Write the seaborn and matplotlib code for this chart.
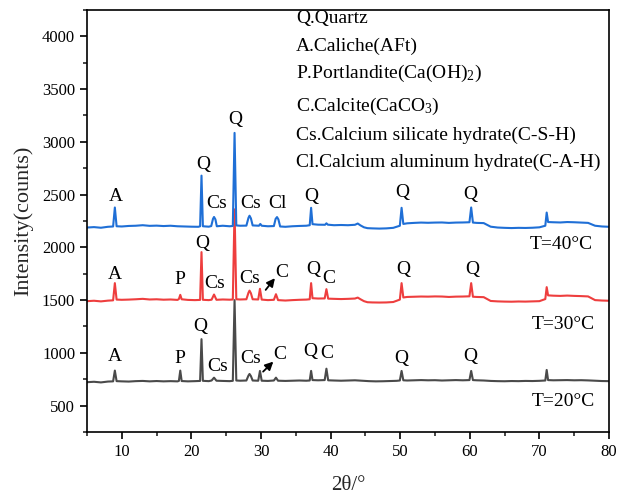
import numpy as np
import pandas as pd
import matplotlib
matplotlib.use("Agg")
import matplotlib.pyplot as plt
import seaborn as sns

# ---- XRD patterns (2theta in degrees, intensity in counts) ----
t40_x = [5.0, 6.0, 7.0, 8.0, 8.75, 9.0, 9.25, 10.0, 11.0, 12.0, 13.0, 14.0, 15.0, 16.0,
         17.0, 18.0, 19.0, 20.0, 21.0, 21.25, 21.45, 21.65, 22.5, 22.85, 23.1, 23.25, 23.45,
         23.65, 24.5, 25.5, 25.95, 26.2, 26.45, 27.0, 27.9, 28.2, 28.35, 28.55, 28.8, 29.7,
         29.9, 30.1, 31.0, 31.85, 32.1, 32.3, 32.5, 32.75, 33.5, 34.5, 35.5, 36.5, 37.0, 37.2,
         37.4, 38.2, 39.2, 39.4, 39.6, 40.5, 41.5, 42.5, 43.5, 43.9, 44.3, 44.8, 45.3, 46.0,
         47.0, 48.0, 49.0, 49.95, 50.2, 50.45, 51.0, 52.0, 53.0, 54.0, 55.0, 56.0, 57.0, 58.0,
         59.0, 59.95, 60.2, 60.45, 61.0, 62.0, 63.0, 64.0, 65.0, 66.0, 67.0, 68.0, 69.0, 70.0,
         70.85, 71.05, 71.25, 72.0, 73.0, 74.0, 75.0, 76.0, 77.0, 78.0, 79.0, 80.0]
t40_y = [2188, 2192, 2186, 2195, 2198, 2378, 2200, 2198, 2203, 2205, 2210, 2204, 2206, 2202,
         2205, 2200, 2198, 2196, 2195, 2200, 2680, 2200, 2196, 2202, 2270, 2288, 2265,
         2200, 2205, 2200, 2203, 3085, 2208, 2205, 2206, 2280, 2300, 2275, 2208, 2205,
         2222, 2205, 2200, 2202, 2270, 2287, 2265, 2198, 2195, 2200, 2203, 2205, 2210, 2375,
         2220, 2215, 2214, 2228, 2215, 2210, 2212, 2210, 2214, 2226, 2208, 2190, 2182, 2180,
         2178, 2180, 2185, 2205, 2375, 2222, 2228, 2232, 2235, 2233, 2235, 2236, 2232, 2235,
         2236, 2238, 2378, 2235, 2232, 2230, 2196, 2188, 2185, 2183, 2185, 2184, 2186, 2190,
         2205, 2330, 2240, 2238, 2236, 2240, 2238, 2235, 2232, 2205, 2198, 2195]

t30_x = [5.0, 6.0, 7.0, 8.0, 8.75, 9.0, 9.25, 10.0, 11.0, 12.0, 13.0, 14.0, 15.0, 16.0,
         17.0, 18.0, 18.2, 18.4, 18.6, 19.5, 20.5, 21.25, 21.45, 21.65, 22.5, 22.9, 23.25,
         23.6, 24.5, 25.5, 25.95, 26.2, 26.45, 27.0, 27.9, 28.2, 28.35, 28.55, 28.8, 29.6,
         29.85, 30.1, 31.0, 31.85, 32.15, 32.45, 33.5, 34.5, 35.5, 36.5, 37.0, 37.2, 37.4,
         38.2, 39.15, 39.4, 39.65, 40.5, 41.5, 42.5, 43.5, 43.9, 44.3, 44.8, 45.3, 46.0, 47.0,
         48.0, 49.0, 49.95, 50.2, 50.45, 51.0, 52.0, 53.0, 54.0, 55.0, 56.0, 57.0, 58.0, 59.0,
         59.95, 60.2, 60.45, 61.0, 62.0, 63.0, 64.0, 65.0, 66.0, 67.0, 68.0, 69.0, 70.0, 70.85,
         71.05, 71.25, 72.0, 73.0, 74.0, 75.0, 76.0, 77.0, 78.0, 79.0, 80.0]
t30_y = [1490, 1494, 1488, 1495, 1498, 1661, 1505, 1503, 1505, 1508, 1512, 1506, 1508, 1504,
         1506, 1502, 1510, 1550, 1508, 1502, 1500, 1502, 1955, 1503, 1500, 1504, 1553,
         1503, 1506, 1504, 1506, 2360, 1508, 1506, 1508, 1570, 1590, 1565, 1508, 1506,
         1607, 1505, 1500, 1503, 1556, 1500, 1496, 1500, 1503, 1505, 1508, 1661, 1518,
         1515, 1516, 1604, 1514, 1512, 1510, 1512, 1515, 1524, 1508, 1490, 1480, 1478, 1477,
         1478, 1482, 1505, 1661, 1525, 1530, 1532, 1534, 1533, 1535, 1534, 1530, 1533, 1534,
         1536, 1661, 1532, 1530, 1528, 1492, 1488, 1486, 1485, 1487, 1486, 1488, 1490, 1510,
         1623, 1545, 1542, 1540, 1543, 1540, 1538, 1535, 1500, 1496, 1494]

t20_x = [5.0, 6.0, 7.0, 8.0, 8.75, 9.0, 9.25, 10.0, 11.0, 12.0, 13.0, 14.0, 15.0, 16.0,
         17.0, 18.0, 18.2, 18.4, 18.6, 19.5, 20.5, 21.25, 21.45, 21.65, 22.5, 22.9, 23.25,
         23.6, 24.5, 25.5, 25.95, 26.2, 26.45, 27.0, 27.9, 28.2, 28.35, 28.55, 28.8, 29.6,
         29.85, 30.1, 31.0, 31.85, 32.15, 32.45, 33.5, 34.5, 35.5, 36.5, 37.0, 37.2, 37.4,
         38.2, 39.15, 39.4, 39.65, 40.5, 41.5, 42.5, 43.5, 44.5, 45.5, 46.5, 47.5, 48.5, 49.5,
         49.95, 50.2, 50.45, 51.0, 52.0, 53.0, 54.0, 55.0, 56.0, 57.0, 58.0, 59.0, 59.95, 60.2,
         60.45, 61.0, 62.0, 63.0, 64.0, 65.0, 66.0, 67.0, 68.0, 69.0, 70.0, 70.85, 71.05,
         71.25, 72.0, 73.0, 74.0, 75.0, 76.0, 77.0, 78.0, 79.0, 80.0]
t20_y = [722, 726, 720, 728, 730, 832, 732, 730, 728, 732, 734, 730, 733, 730,
         732, 730, 734, 832, 733, 730, 732, 734, 1130, 735, 732, 738, 765,
         736, 734, 732, 735, 1500, 738, 736, 738, 785, 800, 780, 738, 736,
         829, 736, 734, 738, 765, 736, 734, 736, 738, 736, 738, 829, 742,
         740, 742, 850, 740, 738, 736, 738, 740, 736, 732, 730, 731, 733, 735,
         738, 829, 740, 738, 740, 742, 740, 741, 738, 740, 742, 740, 742, 829,
         742, 740, 738, 734, 732, 731, 733, 732, 734, 733, 735, 738, 838,
         742, 740, 741, 742, 740, 741, 739, 736, 733, 732]

series_names = ["T=20°C", "T=30°C", "T=40°C"]
series_colors = ["#4a4a4a", "#ee3e3e", "#1f6fd6"]

# Phase key shown in the upper right
phase_key = ["Q.Quartz",
             "A.Caliche(AFt)",
             "P.Portlandite(Ca(OH)$_2$)",
             "C.Calcite(CaCO$_3$)",
             "Cs.Calcium silicate hydrate(C-S-H)",
             "Cl.Calcium aluminum hydrate(C-A-H)"]

# Peak labels: (text, 2theta, intensity)
labels_40 = [("A", 9.1, 2482), ("Q", 21.7, 2783), ("Q", 26.26, 3210), ("Cs", 23.6, 2419),
             ("Cs", 28.56, 2419), ("Cl", 32.4, 2419), ("Q", 37.2, 2482),
             ("Q", 50.36, 2520), ("Q", 60.1, 2505)]
labels_30 = [("A", 9.07, 1740), ("P", 18.4, 1692), ("Q", 21.5, 2040), ("Cs", 23.4, 1661),
             ("Cs", 28.3, 1708), ("C", 32.97, 1762), ("Q", 37.5, 1787), ("C", 39.7, 1708),
             ("Q", 50.5, 1787), ("Q", 60.3, 1787)]
labels_20 = [("A", 8.98, 964), ("P", 18.4, 949), ("Q", 21.3, 1249), ("Cs", 23.7, 870),
             ("Cs", 28.5, 949), ("C", 32.7, 980), ("Q", 37.1, 1012), ("C", 39.4, 990),
             ("Q", 50.2, 949), ("Q", 60.1, 964)]
# Arrows from calcite peak toward its label: (tail_x, tail_y, head_x, head_y)
arrows = [(30.67, 1597, 32.0, 1708), (30.3, 822, 31.77, 917)]
temp_labels = [("T=40°C", 73.2, 2024), ("T=30°C", 73.4, 1265), ("T=20°C", 73.4, 537)]

frames = []
for name, xs, ys in zip(series_names, [t20_x, t30_x, t40_x], [t20_y, t30_y, t40_y]):
    frames.append(pd.DataFrame({"two_theta": xs, "intensity": ys, "sample": name}))
data = pd.concat(frames, ignore_index=True)

sns.set_theme(style="ticks")
plt.rcParams["font.family"] = ["Liberation Serif", "DejaVu Serif"]
plt.rcParams["mathtext.fontset"] = "custom"
plt.rcParams["mathtext.rm"] = "Liberation Serif"
plt.rcParams["mathtext.it"] = "Liberation Serif:italic"
plt.rcParams["axes.edgecolor"] = "black"
plt.rcParams["axes.linewidth"] = 1.2

fig = plt.figure(figsize=(6.18, 4.97), dpi=100)
ax = fig.add_axes([0.1408, 0.1308, 0.8446, 0.8491])

sns.lineplot(data=data, x="two_theta", y="intensity", hue="sample",
             hue_order=series_names, palette=series_colors, sort=False,
             estimator=None, linewidth=1.5, legend=False, ax=ax)

ax.set_xlim(5, 80)
ax.set_ylim(250, 4250)
ax.set_xticks(np.arange(10, 81, 10))
ax.set_xticks(np.arange(5, 81, 5), minor=True)
ax.set_yticks(np.arange(500, 4001, 500))
ax.set_yticks(np.arange(250, 4251, 250), minor=True)
ax.tick_params(axis="both", which="major", direction="out", length=5, width=1.2,
               labelsize=12, colors="black")
ax.tick_params(axis="both", which="minor", direction="out", length=3, width=1.2)
ax.tick_params(top=False, right=False, which="both")
for side in ["top", "right", "left", "bottom"]:
    ax.spines[side].set_visible(True)
    ax.spines[side].set_color("black")

ax.set_xlabel("2θ/°", fontsize=15, labelpad=12)
ax.set_ylabel("Intensity(counts)", fontsize=16, labelpad=6)

key_y = [0.9787, 0.9147, 0.8507, 0.7725, 0.7038, 0.6398]
for txt, yy in zip(phase_key, key_y):
    ax.text(0.400, yy, txt, transform=ax.transAxes, fontsize=14,
            ha="left", va="center", color="black")

for group in (labels_40, labels_30, labels_20):
    for txt, xx, yy in group:
        ax.text(xx, yy, txt, fontsize=14, ha="center", va="center", color="black")

for tx, ty, hx, hy in arrows:
    ax.annotate("", xy=(hx, hy), xytext=(tx, ty),
                arrowprops=dict(arrowstyle="-|>", color="black", lw=1.3,
                                mutation_scale=12, shrinkA=0, shrinkB=0))

for txt, xx, yy in temp_labels:
    ax.text(xx, yy, txt, fontsize=14, ha="center", va="center", color="black")

fig.savefig("out.png", dpi=100)
